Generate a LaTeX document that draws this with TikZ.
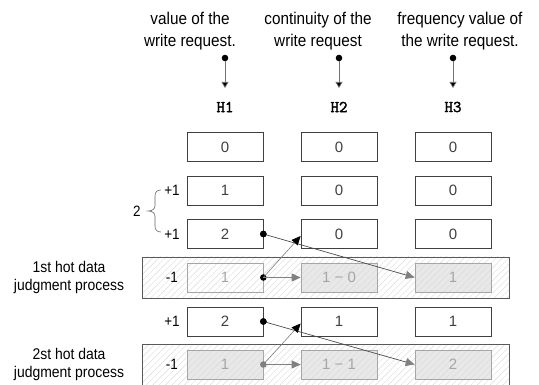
\documentclass[tikz,border=0pt]{standalone}
\usepackage{fontspec}
\setmainfont{Liberation Sans}
\newfontfamily\labelfont{Liberation Sans}[FakeStretch=0.9]
\newfontfamily\regfont{Latin Modern Mono}[FakeBold=2]
\usetikzlibrary{arrows.meta,patterns.meta}

\begin{document}
\begin{tikzpicture}[x=1pt,y=-1pt,
  hatch/.style={pattern={Lines[angle=45,distance=4.5pt,line width=0.45pt]},pattern color=black!14},
  cell/.style={draw=black!75,line width=0.7pt,minimum width=76pt,minimum height=29pt,inner sep=0pt,
    font=\fontsize{15}{18}\selectfont,text=black!75},
  faded/.style={cell,draw=black!35,text=black!35},
  shaded/.style={faded,preaction={fill=black!9},hatch},
  band/.style={draw=black!65,line width=0.8pt,hatch},
  head/.style={align=center,font=\labelfont\fontsize{17}{22}\selectfont,inner sep=0pt},
  side/.style={align=center,font=\labelfont\fontsize{15.5}{18}\selectfont,inner sep=0pt},
  delta/.style={font=\labelfont\fontsize{15}{16}\selectfont,inner sep=0pt},
  hname/.style={font=\regfont\fontsize{16.5}{18}\selectfont,inner sep=0pt},
  dotb/.style={circle,fill=black,inner sep=0pt,minimum size=6.6pt},
  dotg/.style={circle,fill=black!50,inner sep=0pt,minimum size=6.6pt},
  feed/.style={draw=black!55,line width=0.7pt,-{Triangle[length=6pt,width=7pt,fill=black]}},
  upmove/.style={draw=black!50,line width=0.6pt,-{Triangle[length=9pt,width=8pt,fill=black,color=black]}},
  carry/.style={draw=black!70,line width=0.7pt,-{Triangle[length=9pt,width=8pt,fill=black!50,color=black!50]}},
  side move/.style={draw=black!50,line width=0.7pt,-{Triangle[length=9pt,width=8pt,fill=black!50,color=black!50]}}
]
\useasboundingbox (0,0) rectangle (539,385);
\clip (0,0) rectangle (539,385);

% column headings
\node[head] (t1) at (190,31) {value of the\\write request.};
\node[head] (t2) at (318,31) {continuity of the\\write request};
\node[head] (t3) at (460,31) {frequency value of\\the write request.};

% register names with their input arrows
\foreach \i/\x in {1/225,2/339,3/453}{
  \node[dotb] (s\i) at (\x,58) {};
  \coordinate (e\i) at (\x,88);
  \draw[feed] (s\i) -- (e\i);
  \node[hname] (h\i) at (\x,107) {H\i};
}

% background bands of the judgment steps
\path[band] (142,257) rectangle (509,298);
\path[band] (142,344) rectangle (509,400);

% register contents, row by row
\node[cell] (a0) at (225,147) {0};
\node[cell] (b0) at (339,147) {0};
\node[cell] (c0) at (453,147) {0};

\node[cell] (a1) at (225,190.5) {1};
\node[cell] (b1) at (339,190.5) {0};
\node[cell] (c1) at (453,190.5) {0};

\node[cell] (a2) at (225,234) {2};
\node[cell] (b2) at (339,234) {0};
\node[cell] (c2) at (453,234) {0};

\node[faded] (a3) at (225,277.5) {1};
\node[shaded] (b3) at (339,277.5) {1 − 0};
\node[shaded] (c3) at (453,277.5) {1};

\node[cell] (a4) at (225,321.5) {2};
\node[cell] (b4) at (339,321.5) {1};
\node[cell] (c4) at (453,321.5) {1};

\node[shaded] (a5) at (225,364.5) {1};
\node[shaded] (b5) at (339,364.5) {1 − 1};
\node[shaded] (c5) at (453,364.5) {2};

% increments and decrements
\node[delta] (p1) at (172,190.5) {+1};
\node[delta] (p2) at (172,234) {+1};
\node[delta] (m3) at (172,277.5) {-1};
\node[delta] (p4) at (172,321.5) {+1};
\node[delta] (m5) at (172,364.5) {-1};

% brace grouping the two increments
\draw[black!60,line width=0.6pt]
  (161,190) .. controls (157,190) and (155,192) .. (155,196) -- (155,206)
  .. controls (155,209) and (152,211) .. (148,211)
  .. controls (152,211) and (155,213) .. (155,216) -- (155,226)
  .. controls (155,230) and (157,232) .. (161,232);
\node[delta] (n2) at (137,211) {2};

% step labels
\node[side] (l1) at (69,277.5) {1st hot data\\judgment process};
\node[side] (l2) at (69,364.5) {2st hot data\\judgment process};

% transfers of the first judgment step
\node[dotb] (q2) at (a2.east) {};
\node[dotb] (q3) at (a3.east) {};
\draw[carry] (q2.center) -- (c3.west);
\draw[upmove] (q3.center) -- ([yshift=-2pt]b2.west);
\draw[side move] (q3.center) -- (b3.west);

% transfers of the second judgment step
\node[dotb] (q4) at (a4.east) {};
\node[dotg] (q5) at (a5.east) {};
\draw[carry] (q4.center) -- (c5.west);
\draw[upmove] (q5.center) -- ([yshift=-2pt]b4.west);
\draw[side move] (q5.center) -- (b5.west);
\node[dotb] at (a4.east) {};
\node[dotb] at (a2.east) {};
\end{tikzpicture}
\end{document}
